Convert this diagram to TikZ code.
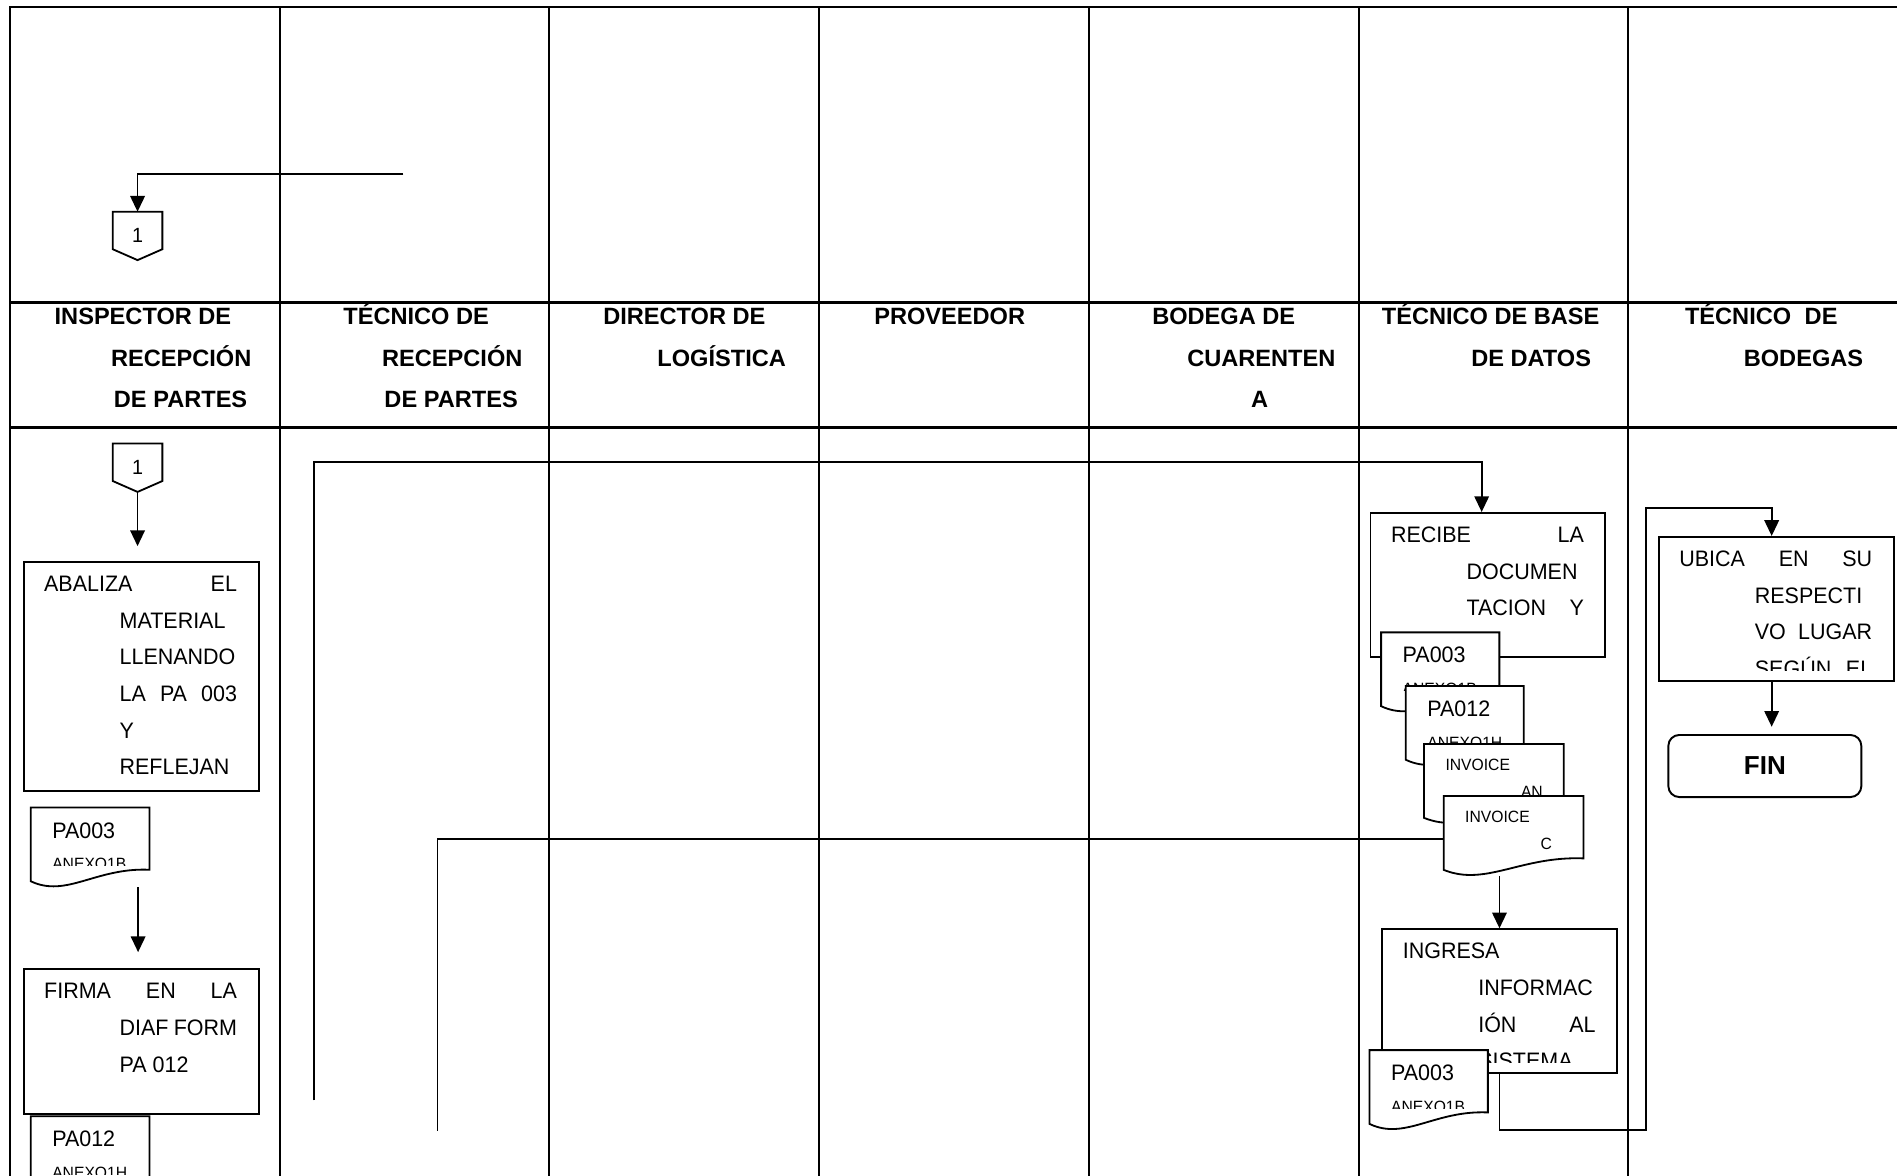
\documentclass[tikz,border=0pt]{standalone}
\usepackage{fontspec}
\setmainfont{Liberation Sans}
\newfontfamily\bodyfont{Liberation Sans}[FakeStretch=0.96]
\usetikzlibrary{arrows.meta,calc}

\tikzset{
  tableline/.style={line width=1.9pt},
  headline/.style={line width=2.4pt},
  conn/.style={line width=1.5pt},
  arr/.style={conn, -{Triangle[length=13pt,width=12pt]}},
  procbox/.style={draw, line width=1.6pt, fill=white, rectangle, inner sep=0pt, anchor=north west},
  docnode/.style={rectangle, inner sep=0pt, outer sep=0pt, anchor=north west, minimum height=66pt},
  docline/.style={line width=1.5pt, fill=white},
  headtext/.style={anchor=base west, inner sep=0pt, font=\fontsize{19.5}{23}\selectfont\bfseries},
  celltext/.style={anchor=base west, inner sep=0pt, font=\bodyfont\fontsize{18.5}{22}\selectfont},
  smalltext/.style={anchor=base west, inner sep=0pt, font=\bodyfont\fontsize{13.5}{16}\selectfont},
  offpage/.style={rectangle, inner sep=0pt, outer sep=0pt, minimum width=41pt, minimum height=40pt,
    anchor=north west, font=\bodyfont\fontsize{17}{20}\selectfont},
}

% document symbol: name, north-west corner, width
\newcommand\docshape[3]{%
  \node[docnode, minimum width=#3pt] (#1) at (#2) {};
  \draw[docline] (#1.north west) -- (#1.north east) -- ($(#1.north east)+(0,51.5)$)
    .. controls ($(#1.north west)+(0.55*#3,49.5)$) and ($(#1.north west)+(0.3*#3,75)$)
    .. ($(#1.north west)+(0,61)$) -- cycle;
}
% off-page connector: name, north-west corner
\newcommand\offpageconn[2]{%
  \node[offpage] (#1) at (#2) {1};
  \draw[conn] (#1.north west) -- (#1.north east) -- ($(#1.north east)+(0,31)$)
    -- (#1.south) -- ($(#1.north west)+(0,31)$) -- cycle;
}

\begin{document}
\begin{tikzpicture}[x=1pt,y=-1pt]
\useasboundingbox (0,0) rectangle (1568,972);
\fill[white] (0,0) rectangle (1568,972);
\clip (0,0) rectangle (1568,972);

% ---- swimlane table ----
\draw[tableline] (1580,5.5) -- (8.3,5.5) -- (8.3,990);
\foreach \x in {231.5,454,677,900.4,1123.2,1345.5}
  \draw[tableline] (\x,5.5) -- (\x,990);
\draw[headline] (8.3,250) -- (1580,250);
\draw[headline] (8.3,353) -- (1580,353);

% ---- lane titles ----
\node[headtext] (h1a) at (45,268.5) {INSPECTOR DE};
\node[headtext] (h1b) at (91.6,302.7) {RECEPCIÓN};
\node[headtext] (h1c) at (94,336.5) {DE PARTES};
\node[headtext] (h2a) at (283.6,268.5) {TÉCNICO DE};
\node[headtext] (h2b) at (315.7,302.7) {RECEPCIÓN};
\node[headtext] (h2c) at (317.6,336.5) {DE PARTES};
\node[headtext] (h3a) at (498.5,268.5) {DIRECTOR DE};
\node[headtext] (h3b) at (543.2,302.7) {LOGÍSTICA};
\node[headtext] (h4a) at (722.5,268.5) {PROVEEDOR};
\node[headtext] (h5a) at (952.2,268.5) {BODEGA DE};
\node[headtext] (h5b) at (981.2,302.7) {CUARENTEN};
\node[headtext] (h5c) at (1034,336.5) {A};
\node[headtext] (h6a) at (1142,268.5) {TÉCNICO DE BASE};
\node[headtext] (h6b) at (1215.9,302.7) {DE DATOS};
\node[headtext] (h7a) at (1392.6,268.5) {\makebox[126pt][s]{TÉCNICO DE}};
\node[headtext] (h7b) at (1441.2,302.7) {BODEGAS};

% ---- off-page connectors ----
\offpageconn{c1}{93.2,175}
\offpageconn{c2}{93.2,366.6}

% ---- inspector lane ----
\node[procbox, minimum width=194.3pt, minimum height=189.1pt] (abaliza) at (18.7,463.6) {};
\begin{scope}
  \clip (abaliza.north west) rectangle ($(abaliza.south east)+(0,-9.5)$);
  \node[celltext] (ab1) at ($(abaliza.north west)+(17.6,25.3)$) {\makebox[159.4pt][s]{ABALIZA EL}};
  \node[celltext] (ab2) at ($(abaliza.north west)+(80,55.6)$) {MATERIAL};
  \node[celltext] (ab3) at ($(abaliza.north west)+(80,85.9)$) {LLENANDO};
  \node[celltext] (ab4) at ($(abaliza.north west)+(80,116.2)$) {\makebox[97pt][s]{LA PA 003}};
  \node[celltext] (ab5) at ($(abaliza.north west)+(80,146.5)$) {Y};
  \node[celltext] (ab6) at ($(abaliza.north west)+(80,176.8)$) {REFLEJAN};
\end{scope}

\docshape{pa1}{25.4,667.4}{98.1}
\begin{scope}
  \clip (pa1.north west) rectangle ($(pa1.north east)+(0,48)$);
  \node[celltext] (pa1a) at ($(pa1.north west)+(17.6,25.3)$) {PA003};
  \node[smalltext] (pa1b) at ($(pa1.north west)+(17.6,51.5)$) {ANEXO1B};
\end{scope}

\node[procbox, minimum width=194.3pt, minimum height=119.5pt] (firma) at (18.7,800.4) {};
\begin{scope}
  \clip (firma.north west) rectangle ($(firma.south east)+(0,-9.5)$);
  \node[celltext] (fi1) at ($(firma.north west)+(17.6,25.3)$) {\makebox[159.4pt][s]{FIRMA EN LA}};
  \node[celltext] (fi2) at ($(firma.north west)+(80,55.6)$) {\makebox[97pt][s]{DIAF FORM}};
  \node[celltext] (fi3) at ($(firma.north west)+(80,85.9)$) {PA 012};
\end{scope}

\docshape{pa2}{25.4,922.7}{98.1}
\begin{scope}
  \clip (pa2.north west) rectangle ($(pa2.north east)+(0,48)$);
  \node[celltext] (pa2a) at ($(pa2.north west)+(17.6,25.3)$) {PA012};
  \node[smalltext] (pa2b) at ($(pa2.north west)+(17.6,51.5)$) {ANEXO1H};
\end{scope}

% ---- database technician lane ----
\node[procbox, minimum width=194.2pt, minimum height=119pt] (recibe) at (1132,423.2) {};
\begin{scope}
  \clip (recibe.north west) rectangle ($(recibe.south east)+(0,-9.5)$);
  \node[celltext] (re1) at ($(recibe.north west)+(17.6,25.3)$) {\makebox[159.4pt][s]{RECIBE LA}};
  \node[celltext] (re2) at ($(recibe.north west)+(80,55.6)$) {DOCUMEN};
  \node[celltext] (re3) at ($(recibe.north west)+(80,85.9)$) {\makebox[97pt][s]{TACION Y}};
\end{scope}

\docshape{s1}{1141.6,522.7}{97.7}
\begin{scope}
  \clip (s1.north west) rectangle ($(s1.north east)+(0,48)$);
  \node[celltext] (s1a) at ($(s1.north west)+(17.6,25.3)$) {PA003};
  \node[smalltext] (s1b) at ($(s1.north west)+(17.6,51.5)$) {ANEXO1B};
\end{scope}

\docshape{s2}{1162,567}{97.5}
\begin{scope}
  \clip (s2.north west) rectangle ($(s2.north east)+(0,48)$);
  \node[celltext] (s2a) at ($(s2.north west)+(17.6,25.3)$) {PA012};
  \node[smalltext] (s2b) at ($(s2.north west)+(17.6,51.5)$) {ANEXO1H};
\end{scope}

\docshape{s3}{1177,615}{115.5}
\begin{scope}
  \clip (s3.north west) rectangle ($(s3.north east)+(0,48)$);
  \node[smalltext] (s3a) at ($(s3.north west)+(17.6,22)$) {INVOICE};
  \node[smalltext] (s3b) at ($(s3.north west)+(80,44.5)$) {AN};
\end{scope}

\docshape{s4}{1193.3,658}{115.5}
\begin{scope}
  \clip (s4.north west) rectangle ($(s4.north east)+(0,48)$);
  \node[smalltext] (s4a) at ($(s4.north west)+(17.6,21.5)$) {INVOICE};
  \node[smalltext] (s4b) at ($(s4.north west)+(80,44)$) {C};
\end{scope}

\node[procbox, minimum width=193.8pt, minimum height=118.5pt] (ingresa) at (1141.7,767.3) {};
\begin{scope}
  \clip (ingresa.north west) rectangle ($(ingresa.south east)+(0,-9.5)$);
  \node[celltext] (in1) at ($(ingresa.north west)+(17.6,25.3)$) {INGRESA};
  \node[celltext] (in2) at ($(ingresa.north west)+(80,55.6)$) {INFORMAC};
  \node[celltext] (in3) at ($(ingresa.north west)+(80,85.9)$) {\makebox[97pt][s]{IÓN AL}};
  \node[celltext] (in4) at ($(ingresa.north west)+(80,116.2)$) {SISTEMA};
\end{scope}

\docshape{pa3}{1132,868}{97.8}
\begin{scope}
  \clip (pa3.north west) rectangle ($(pa3.north east)+(0,48)$);
  \node[celltext] (pa3a) at ($(pa3.north west)+(17.6,25.3)$) {PA003};
  \node[smalltext] (pa3b) at ($(pa3.north west)+(17.6,51.5)$) {ANEXO1B};
\end{scope}

% ---- warehouse technician lane ----
\node[procbox, minimum width=194.2pt, minimum height=119pt] (ubica) at (1370.3,443) {};
\begin{scope}
  \clip (ubica.north west) rectangle ($(ubica.south east)+(0,-9.5)$);
  \node[celltext] (ub1) at ($(ubica.north west)+(17.6,25.3)$) {\makebox[159.4pt][s]{UBICA EN SU}};
  \node[celltext] (ub2) at ($(ubica.north west)+(80,55.6)$) {RESPECTI};
  \node[celltext] (ub3) at ($(ubica.north west)+(80,85.9)$) {\makebox[97pt][s]{VO LUGAR}};
  \node[celltext] (ub4) at ($(ubica.north west)+(80,116.2)$) {\makebox[97pt][s]{SEGÚN EL}};
\end{scope}

\node[draw, fill=white, rounded corners=9pt, line width=1.6pt, inner sep=0pt,
      minimum width=159.5pt, minimum height=51.3pt, anchor=north west,
      font=\fontsize{21.5}{24}\selectfont\bfseries] (fin) at (1378.2,606.7) {FIN};

% ---- connectors ----
\coordinate (topfree) at (333.5,144);
\draw[arr] (topfree) -| (c1.north);

\draw[arr] (c2.south) -- ($(c2.south |- abaliza.north)+(0,-12.2)$);
\draw[arr] ($(pa1.south -| firma.north)+(-2.5,0)$) -- ($(firma.north)+(-2.5,-13.4)$);

\coordinate (aBottom) at (259.3,909.5);
\coordinate (aTop) at (259.3,382);
\draw[arr] (aBottom) -- (aTop) -| ($(recibe.north)+(-5.2,0)$);

\coordinate (bCorner) at (361.6,693.8);
\coordinate (bEnd) at (361.6,935);
\draw[conn] ($(s4.north west)+(0,35.8)$) -- (bCorner) -- (bEnd);

\draw[arr] (ingresa.north |- s4.south) -- (ingresa.north);

\coordinate (loopLow) at (1360.6,934);
\coordinate (loopHigh) at (1360.6,419.6);
\draw[arr] (ingresa.south) |- (loopLow) -- (loopHigh) -| ($(ubica.north)+(-3.8,0)$);

\draw[arr] ($(ubica.south)+(-3.8,0)$) -- ($(ubica.south |- fin.north)+(-3.8,-6)$);
\end{tikzpicture}
\end{document}
